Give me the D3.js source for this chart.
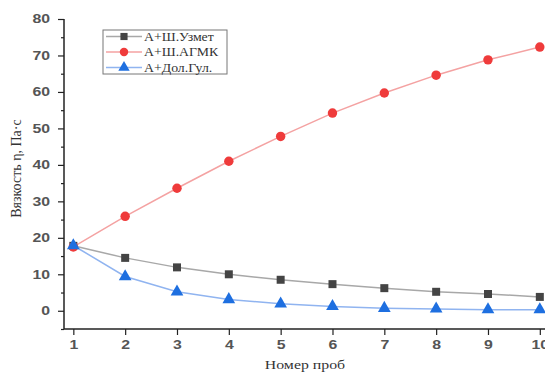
<!DOCTYPE html>
<html><head><meta charset="utf-8">
<script src="https://cdn.jsdelivr.net/npm/d3@7"></script>
<style>body{margin:0;background:#fff}svg{display:block}</style>
</head><body>
<script>
const samples = [1,2,3,4,5,6,7,8,9,10];
const uzmet = [17.8,14.5,11.9,10.0,8.5,7.3,6.2,5.2,4.6,3.8];
const agmk  = [17.5,25.9,33.6,41.0,47.8,54.2,59.7,64.6,68.8,72.3];
const dolgul= [17.9,9.4,5.2,3.1,1.9,1.2,0.7,0.5,0.3,0.3];
const seriesNames = ["А+Ш.Узмет","А+Ш.АГМК","А+Дол.Гул."];
const yTicks = [0,10,20,30,40,50,60,70,80];
const xTicks = samples;

const W=545,H=374;
const SX=1.32; // horizontal stretch of text seen in the reference
const svg=d3.select("body").append("svg").attr("width",W).attr("height",H);
const x=d3.scaleLinear().domain([0.82,10.1]).range([64,545]);
const y=d3.scaleLinear().domain([-5,80]).range([329,19]);

const tickFont="Liberation Sans, Arial, sans-serif";
const serif="Liberation Serif, Times New Roman, serif";
const ya=svg.append("g").attr("transform","translate(64,0)")
 .call(d3.axisLeft(y).tickValues(yTicks).tickSize(6).tickPadding(4).tickFormat(d3.format("d")));
svg.append("g").attr("transform","translate(64,0)")
 .call(d3.axisLeft(y).tickValues(d3.range(-5,80,10)).tickSize(3).tickFormat(""))
 .select(".domain").remove();
const xa=svg.append("g").attr("transform","translate(0,329)")
 .call(d3.axisBottom(x).tickValues(xTicks).tickSize(6).tickPadding(5).tickFormat(d3.format("d")));
[ya,xa].forEach(g=>{
  g.select(".domain").attr("stroke","#222").attr("stroke-width",1.5);
  g.selectAll(".tick text").attr("fill","#555").style("font-family",tickFont)
   .style("font-size","12px").style("font-weight","bold");
});
ya.selectAll(".tick text").attr("x",-14/SX).attr("transform",`scale(${SX},1)`);
xa.selectAll(".tick text").attr("transform",`scale(${SX},1)`);
svg.selectAll(".tick line").attr("stroke","#222").attr("stroke-width",1.2);
ya.select(".domain").attr("d",`M0,${y(80)}V${y(-5)}`);
xa.select(".domain").attr("d",`M${x(0.82)},0H${W}`);

svg.append("text").attr("transform",`translate(21,${y(39)}) rotate(-90)`)
 .attr("text-anchor","middle").style("font-family",serif)
 .style("font-size","14px").attr("fill","#333").text("Вязкость η, Па·с");
svg.append("text").attr("transform",`translate(305,369) scale(${SX},1)`).attr("text-anchor","middle")
 .style("font-family",serif)
 .style("font-size","12px").attr("fill","#333").text("Номер проб");

const cfg=[
 {data:uzmet,line:"#a8a8a8",mark:"#444",shape:d3.symbolSquare,size:64},
 {data:agmk,line:"#f4a2a2",mark:"#ef3b3b",shape:d3.symbolCircle,size:70},
 {data:dolgul,line:"#90b4f0",mark:"#1e6fe0",shape:d3.symbolTriangle,size:70}
];
const line=d3.line().x((d,i)=>x(samples[i])).y(d=>y(d));
cfg.forEach(c=>{
  svg.append("path").datum(c.data).attr("d",line).attr("fill","none")
   .attr("stroke",c.line).attr("stroke-width",1.5);
});
cfg.forEach(c=>{
  svg.append("g").selectAll("path").data(c.data).join("path")
   .attr("transform",(d,i)=>`translate(${x(samples[i])},${y(d)})`)
   .attr("d",d3.symbol().type(c.shape).size(c.size)).attr("fill",c.mark);
});

const lg=svg.append("g");
lg.append("rect").attr("x",103).attr("y",30).attr("width",124).attr("height",44)
 .attr("fill","#fff").attr("stroke","#777").attr("stroke-width",1);
cfg.forEach((c,i)=>{
  const yy=36.5+i*15.5;
  lg.append("line").attr("x1",106).attr("x2",142).attr("y1",yy).attr("y2",yy)
   .attr("stroke",c.line).attr("stroke-width",1.5);
  lg.append("path").attr("transform",`translate(124,${yy})`)
   .attr("d",d3.symbol().type(c.shape).size(c.size*0.8)).attr("fill",c.mark);
  lg.append("text").attr("transform",`translate(144,${yy+4}) scale(1.2,1)`)
   .style("font-family",serif)
   .style("font-size","11.5px").attr("fill","#333").text(seriesNames[i]);
});
</script>
</body></html>
